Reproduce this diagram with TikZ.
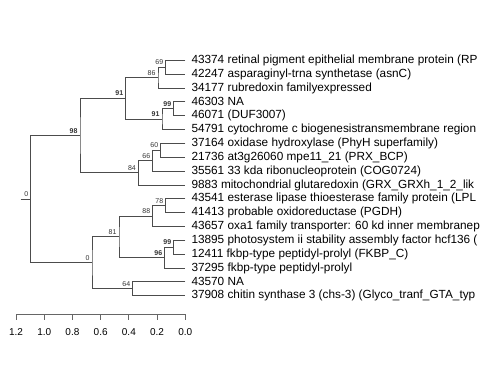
\documentclass[tikz,border=0pt]{standalone}
\usepackage{fontspec}
\setmainfont{Liberation Sans}
\usetikzlibrary{calc}
\usetikzlibrary{positioning}

% one clade: name, x of the split, upper child, lower child, support value
\newcommand{\clade}[5]{%
  \path let \p1=(#3), \p2=(#4) in coordinate (#1) at (#2pt,{0.5*(\y1+\y2)});
  \draw[branch] (#3) -| (#1) |- (#4);
  \node[boot] (#1v) at (#1) {#5};
}

\begin{document}
\begin{tikzpicture}[x=1pt,y=-1pt,
        branch/.style={draw=black!70,line width=0.9pt},
        axisline/.style={draw=black!60,line width=0.9pt},
        boot/.style={anchor=south east,inner sep=0.8pt,xshift=-1.5pt,yshift=1.5pt,
                     text=black!80,font=\fontsize{7}{8}\selectfont},
        leaf/.style={anchor=west,inner xsep=6pt,inner ysep=0pt,
                     font=\fontsize{11.8}{12}\selectfont},
        ticklabel/.style={anchor=north,inner sep=0pt,yshift=-8pt,
                     font=\fontsize{10}{12}\selectfont}]

    \clip (0,0) rectangle (480,384);

    \foreach \txt [count=\i from 0] in {
        {43374 retinal pigment epithelial membrane protein (RP},
        {42247 asparaginyl-trna synthetase (asnC)},
        {34177 rubredoxin familyexpressed},
        {46303 NA},
        {46071 (DUF3007)},
        {54791 cytochrome c biogenesistransmembrane region},
        {37164 oxidase hydroxylase (PhyH superfamily)},
        {21736 at3g26060 mpe11\_21 (PRX\_BCP)},
        {35561 33 kda ribonucleoprotein (COG0724)},
        {9883 mitochondrial glutaredoxin (GRX\_GRXh\_1\_2\_lik},
        {43541 esterase lipase thioesterase family protein (LPL},
        {41413 probable oxidoreductase (PGDH)},
        {43657 oxa1 family transporter: 60 kd inner membranep},
        {13895 photosystem ii stability assembly factor hcf136 (},
        {12411 fkbp-type peptidyl-prolyl (FKBP\_C)},
        {37295 fkbp-type peptidyl-prolyl},
        {43570 NA},
        {37908 chitin synthase 3 (chs-3) (Glyco\_tranf\_GTA\_typ}}
        \node[leaf] (l\i) at (185.3,60.3+13.85*\i) {\txt};

    \clade{n69}{165.7}{l0.west}{l1.west}{69}
    \clade{n86}{158}{n69}{l2.west}{86}
    \clade{n99a}{173.7}{l3.west}{l4.west}{\textbf{99}}
    \clade{n91b}{162}{n99a}{l5.west}{\textbf{91}}
    \clade{n91a}{125.7}{n86}{n91b}{\textbf{91}}
    \clade{n60}{160.7}{l6.west}{l7.west}{60}
    \clade{n66}{152.7}{n60}{l8.west}{66}
    \clade{n84}{138.3}{n66}{l9.west}{84}
    \clade{n98}{80}{n91a}{n84}{\textbf{98}}
    \clade{n78}{165.7}{l10.west}{l11.west}{78}
    \clade{n88}{152.7}{n78}{l12.west}{88}
    \clade{n99b}{173.7}{l13.west}{l14.west}{\textbf{99}}
    \clade{n96}{164.7}{n99b}{l15.west}{\textbf{96}}
    \clade{n81}{119}{n88}{n96}{81}
    \clade{n64}{132.7}{l16.west}{l17.west}{64}
    \clade{n0}{92}{n81}{n64}{0}
    \clade{root}{30.7}{n98}{n0}{0}

    \coordinate (stem) at ($(root)+(-10,0)$);
    \draw[branch] (stem) -- (root);

    % scale bar
    \coordinate (ax0) at (16,314);
    \coordinate (ax1) at (185.3,314);
    \draw[axisline] (ax0) -- (ax1);
    \foreach \v [count=\k from 0] in {1.2,1.0,0.8,0.6,0.4,0.2,0.0}
        \draw[axisline] ($(ax0)!\k/6!(ax1)$) -- ++(0,6)
            node[ticklabel] (tk\k) {\v};

\end{tikzpicture}
\end{document}
